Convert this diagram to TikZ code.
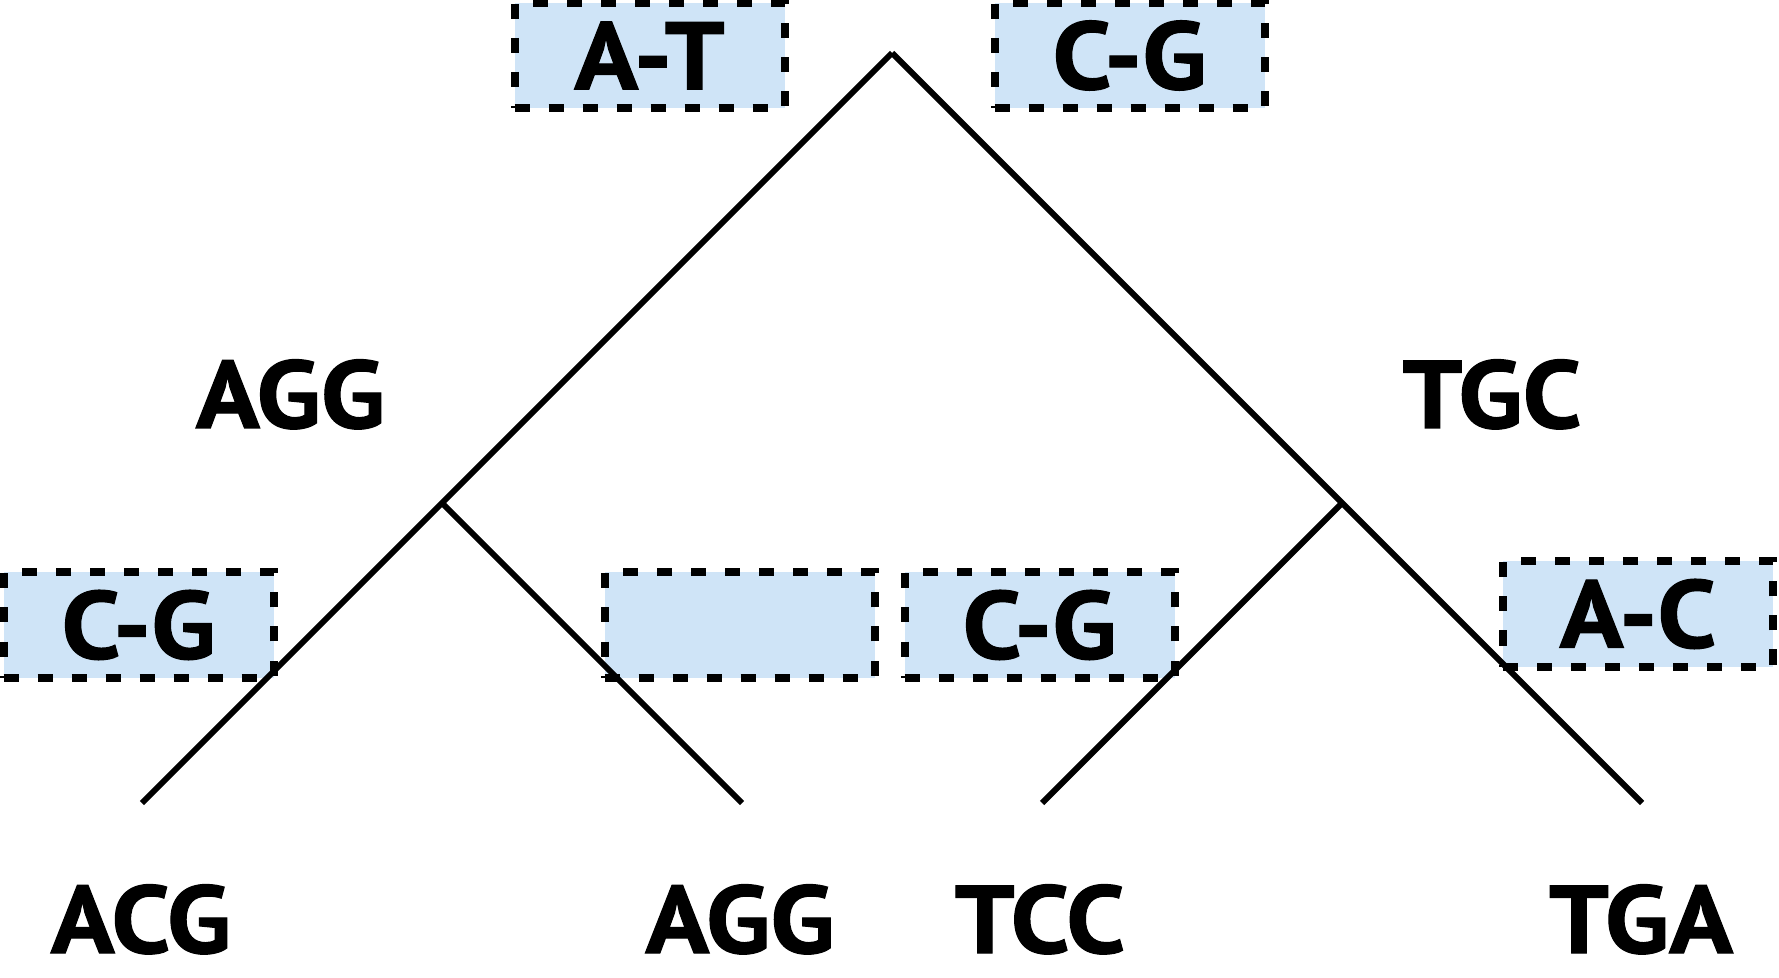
\documentclass[tikz,border=0pt]{standalone}
\usepackage{fontspec}
\setmainfont{PT Sans}[BoldFeatures={FakeStretch=1.1,FakeBold=1.2}]
\definecolor{boxblue}{RGB}{207,228,247}
\begin{document}
\begin{tikzpicture}[x=0.5pt,y=-0.5pt,
  seq/.style={font=\fontsize{48}{48}\selectfont\bfseries, inner sep=0pt, anchor=base},
  change/.style={draw, fill=boxblue, line width=4pt, dash pattern=on 7.5pt off 9.5pt,
    minimum width=135pt, minimum height=52.5pt, inner sep=0pt,
    font=\fontsize{48}{48}\selectfont\bfseries},
  branch/.style={draw, line width=3pt}]
\useasboundingbox (0,0) rectangle (1779,978);

% substitutions on the branches
\node[change] (at) at (649.5,55.5) {A-T};
\node[change] (cgtop) at (1129.5,55.5) {C-G};
\node[change] (cgleft) at (138.5,625) {C-G};
\node[change] (none) at (739.5,625) {};
\node[change] (cgmid) at (1039.5,625) {C-G};
\node[change] (ac) at (1638,614) {A-C};

% tree
\coordinate (root) at (892,53);
\coordinate (left) at (442,503);
\coordinate (right) at (1342,503);
\coordinate (leaf1) at (142,803);
\coordinate (leaf2) at (742,803);
\coordinate (leaf3) at (1042,803);
\coordinate (leaf4) at (1642,803);

\path[branch] (root) -- (leaf1);
\path[branch] (left) -- (leaf2);
\path[branch] (root) -- (leaf4);
\path[branch] (right) -- (leaf3);

% sequences
\node[seq] (agginner) at (290.5,428) {AGG};
\node[seq] (tgc) at (1492,428) {TGC};
\node[seq] (acg) at (141,953) {ACG};
\node[seq] (agg) at (740,953) {AGG};
\node[seq] (tcc) at (1040,953) {TCC};
\node[seq] (tga) at (1641,953) {TGA};
\end{tikzpicture}
\end{document}
